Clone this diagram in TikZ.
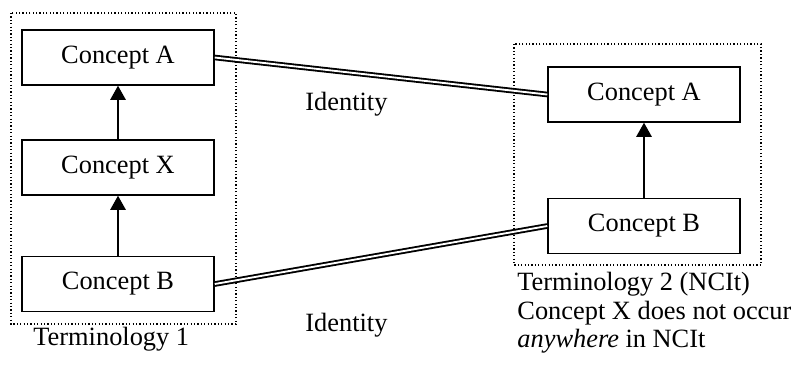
\documentclass[tikz,border=0pt]{standalone}
\usepackage{fontspec}
\setmainfont{Liberation Serif}
\usetikzlibrary{arrows.meta}

\tikzset{
  concept/.style={draw, line width=0.65pt, minimum width=87.4pt, minimum height=25pt, inner sep=0pt},
  isa/.style={line width=0.95pt, -{Triangle[width=7pt,length=6.5pt]}},
  identity/.style={double, line width=0.85pt, double distance=0.85pt},
  termframe/.style={densely dotted, line width=0.55pt}
}

\begin{document}
\begin{tikzpicture}[x=0.455pt, y=-0.455pt, font=\fontsize{12}{12.5}\selectfont]

        \fill [white] (0,0) rectangle (791,365);
        \useasboundingbox (0,0) rectangle (791,365);

        %Terminology 1
        \draw [termframe]  (11,13) rectangle (236,324);
        \node [concept] (a1) at (118,57.5)  {Concept A};
        \node [concept] (x1) at (118,167.5) {Concept X};
        \node [concept] (b1) at (118,284)   {Concept B};
        \draw [isa] (x1) -- (a1);
        \draw [isa] (b1) -- (x1);
        \node [anchor=base west, inner sep=0pt] (t1) at (33,345) {Terminology 1};

        %Terminology 2
        \draw [termframe]  (514,44) rectangle (761,265);
        \node [concept] (a2) at (644,94.5) {Concept A};
        \node [concept] (b2) at (644,226)  {Concept B};
        \draw [isa] (b2) -- (a2);
        \node [anchor=north west, inner sep=0pt, align=left,
               font=\fontsize{12}{13}\selectfont] (t2) at (517,272)
              {Terminology 2 (NCIt)\\Concept X does not occur\\\textit{anywhere} in NCIt};

        %Identity links
        \draw [identity] (a1.east) -- (a2.west);
        \draw [identity] (b1.east) -- (b2.west);
        \node [anchor=base west, inner sep=0pt] (id1) at (305,110) {Identity};
        \node [anchor=base west, inner sep=0pt] (id2) at (305,331) {Identity};

\end{tikzpicture}
\end{document}
